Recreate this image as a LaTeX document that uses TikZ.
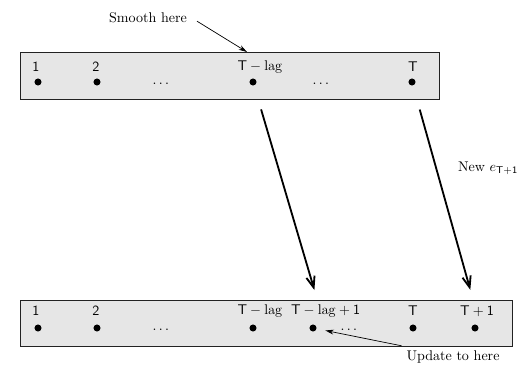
\documentclass[tikz,border=0pt]{standalone}
\usepackage{tikz}
\usetikzlibrary{positioning, arrows.meta, calc}
\usepackage{amsmath}
\usepackage{xcolor}
\definecolor{boxfill}{HTML}{E6E6E6}
\definecolor{boxline}{HTML}{222222}

\begin{document}
\begin{tikzpicture}[font=\normalsize,
    band/.style={draw=boxline, fill=boxfill, line width=0.6pt, inner sep=0pt},
    pt/.style={circle, fill=black, inner sep=0pt, minimum size=5pt},
    idx/.style={inner sep=1pt},
    jump/.style={line width=1.3pt, -{Straight Barb[length=8pt, width=6pt]}},
    note/.style={line width=0.5pt, -{Stealth[length=6pt, width=3.5pt]}}]
    \useasboundingbox (0,0) rectangle (13.05,-9.125);
    % old sample
    \node[band, minimum width=10.475cm, minimum height=1.175cm] (obs) at (5.7375,-1.8875) {};
    \node[idx] (t1) at (0.9,-1.675)   {$\mathsf{1}$};
    \node[idx] (t2) at (2.4,-1.675)   {$\mathsf{2}$};
    \node[idx] (tlag) at (6.5,-1.675) {$\mathsf{T}-\mathrm{lag}$};
    \node[idx] (tT) at (10.325,-1.675) {$\mathsf{T}$};
    \node[pt] (d1) at (0.95,-2.05) {};
    \node[pt] (d2) at (2.425,-2.05) {};
    \node[pt] (dlag) at (6.325,-2.05) {};
    \node[pt] (dT) at (10.3,-2.05) {};
    \node (e1) at (4.05,-2.1) {$\dots$};
    \node (e2) at (8.05,-2.1) {$\dots$};
    % new sample
    \node[band, minimum width=12.3cm, minimum height=1.15cm] (newobs) at (6.65,-8.075) {};
    \node[idx] (n1) at (0.9,-7.775)   {$\mathsf{1}$};
    \node[idx] (n2) at (2.4,-7.775)   {$\mathsf{2}$};
    \node[idx] (nlag) at (6.5,-7.775) {$\mathsf{T}-\mathrm{lag}$};
    \node[idx] (nlagone) at (8.14,-7.775) {$\mathsf{T}-\mathrm{lag}+\mathsf{1}$};
    \node[idx] (nT) at (10.325,-7.775) {$\mathsf{T}$};
    \node[idx] (nTone) at (11.925,-7.775) {$\mathsf{T}+\mathsf{1}$};
    \node[pt] (m1) at (0.95,-8.2) {};
    \node[pt] (m2) at (2.425,-8.2) {};
    \node[pt] (mlag) at (6.325,-8.2) {};
    \node[pt] (mlagone) at (7.825,-8.2) {};
    \node[pt] (mT) at (10.325,-8.2) {};
    \node[pt] (mTone) at (11.875,-8.2) {};
    \node (f1) at (4.05,-8.25) {$\dots$};
    \node (f2) at (8.75,-8.25) {$\dots$};
    % shifts
    \draw[jump, shorten <=0.62cm, shorten >=0.99cm] (dlag) -- (nlagone |- mlagone);
    \draw[jump, shorten <=0.62cm, shorten >=0.99cm] (dT) -- ($(nTone |- mTone)+(0.1,0)$);
    \node (newe) at (12.2,-4.2) {New $e_{\mathsf{T+1}}$};
    % notes
    \node (smooth) at (3.7,-0.45) {Smooth here};
    \coordinate (smtip) at (6.175,-1.3);
    \draw[note, shorten <=0.15cm] (smooth.east) -- (smtip);
    \node (update) at (11.325,-8.925) {Update to here};
    \draw[note, shorten >=0.22cm] (update.north west) -- (mlagone);
\end{tikzpicture}
\end{document}
